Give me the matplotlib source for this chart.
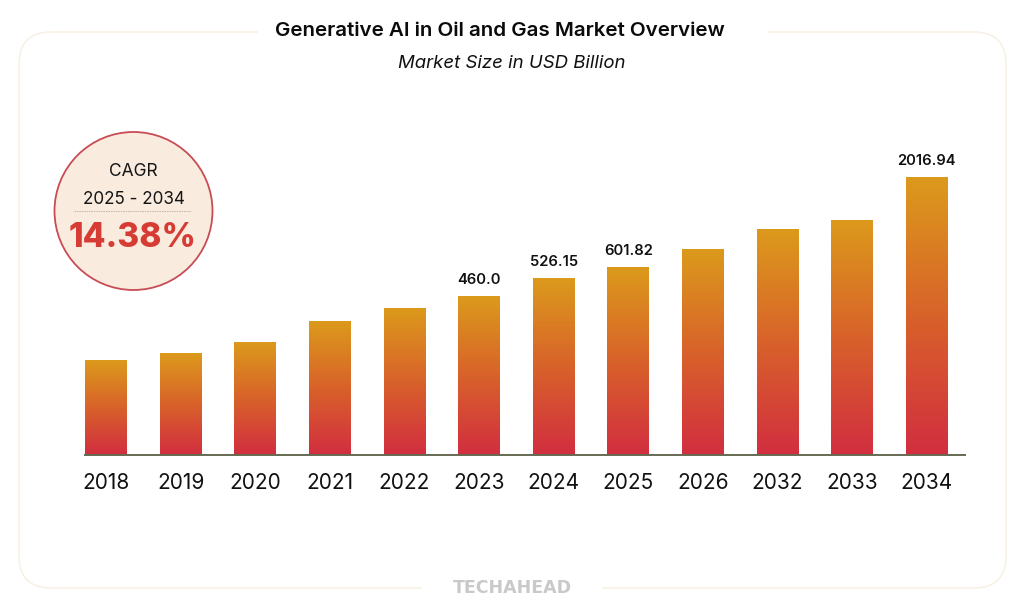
import numpy as np
import matplotlib
matplotlib.use("Agg")
import matplotlib.pyplot as plt
from matplotlib.patches import FancyBboxPatch, Circle
from matplotlib.colors import LinearSegmentedColormap

years = ["2018", "2019", "2020", "2021", "2022", "2023", "2024", "2025", "2026", "2032", "2033", "2034"]
# the source bars are not to a linear scale, so heights are read as drawn
bar_heights = [95, 102, 113, 134, 147, 159, 177, 188, 206, 226, 235.5, 278]
value_labels = ["", "", "", "", "", "460.0", "526.15", "601.82", "", "", "", "2016.94"]
title = "Generative AI in Oil and Gas Market Overview"
subtitle = "Market Size in USD Billion"
cagr_lines = ["CAGR", "2025 - 2034", "14.38%"]
brand = "TECHAHEAD"

W, H = 1024, 609
plt.rcParams['font.family'] = ['Inter', 'DejaVu Sans']
fig = plt.figure(figsize=(W / 100, H / 100), dpi=100, facecolor="white")

# decoration layer in pixel coordinates
bg = fig.add_axes([0, 0, 1, 1], zorder=0)
bg.set_xlim(0, W); bg.set_ylim(H, 0); bg.axis("off")
bg.add_patch(FancyBboxPatch((19 + 32, 32 + 32), 987 - 64, 556 - 64,
                            boxstyle="round,pad=32,rounding_size=32",
                            fc="#FFFFFF", ec="#F7EFE2", lw=1.0))
bg.fill_between([258, 768], 28, 36, color="white", lw=0)
bg.fill_between([422, 602], 584, 592, color="white", lw=0)
bg.add_patch(Circle((133.5, 211), 79, fc="#F9EBDE", ec="#C84C55", lw=1.3))
bg.plot([74, 191], [211, 211], color="#BDB5A8", lw=0.7, ls=(0, (1.5, 1)))

bg.text(499.5, 30.5, title, ha="center", va="center", fontsize=14.8, fontweight=600, color="#0B0B0B")
bg.text(512, 63.5, subtitle, ha="center", va="center", fontsize=13.4, style="italic", color="#111111")
bg.text(133.5, 172, cagr_lines[0], ha="center", va="center", fontsize=12.5, color="#151515")
bg.text(133.5, 200, cagr_lines[1], ha="center", va="center", fontsize=12.3, color="#151515")
bg.text(133, 238, cagr_lines[2], ha="center", va="center", fontsize=24, fontweight=800, color="#D63C34")
bg.text(512.5, 588, brand, ha="center", va="center", fontsize=12.5, fontweight="bold",
        family="DejaVu Sans", color="#C9C9C9")

# bar chart layer
left, right, base, top = 85, 965, 455, 100
ax = fig.add_axes([left / W, 1 - base / H, (right - left) / W, (base - top) / H], zorder=1)
ax.patch.set_alpha(0)
x = np.arange(len(years))
step = 74.6
ax.set_xlim((left - 106) / step, (right - 106) / step)
ax.set_ylim(0, base - top)

cmap = LinearSegmentedColormap.from_list("bar", ["#D22E40", "#D8622A", "#DC9A1C"])
grad = np.linspace(1, 0, 256).reshape(-1, 1)
bars = ax.bar(x, bar_heights, width=0.56, color="none", lw=0)
for b in bars:
    im = ax.imshow(grad, cmap=cmap, vmin=0, vmax=1, aspect="auto",
                   extent=(b.get_x(), b.get_x() + b.get_width(), 0, b.get_height()), zorder=2)
    im.set_clip_path(b)
ax.set_xlim((left - 106) / step, (right - 106) / step)
ax.set_ylim(0, base - top)

for xi, h, lab in zip(x, bar_heights, value_labels):
    if lab:
        ax.annotate(lab, (xi, h), xytext=(0, 6.5), textcoords="offset points", ha="center",
                    va="bottom", fontsize=10.6, fontweight=600, color="#111111")

for s in ("top", "left", "right"):
    ax.spines[s].set_visible(False)
ax.spines["bottom"].set_color("#666A52")
ax.spines["bottom"].set_linewidth(1.4)
ax.set_yticks([])
ax.set_xticks(x, years)
ax.tick_params(axis="x", length=0, pad=13, labelsize=15, labelcolor="#111111")

fig.savefig("out.png", dpi=100)
